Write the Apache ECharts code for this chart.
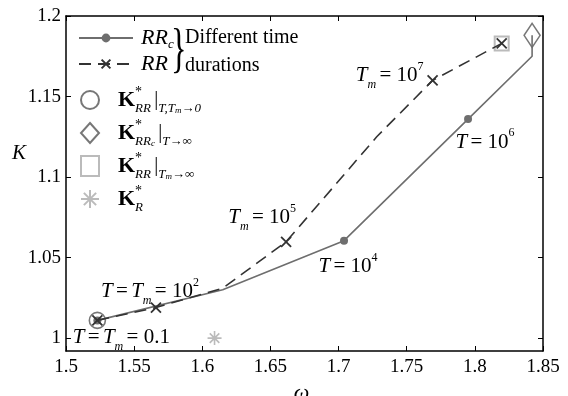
<!DOCTYPE html>
<html>
<head>
<meta charset="utf-8">
<script src="https://cdn.jsdelivr.net/npm/echarts@6/dist/echarts.min.js"></script>
<style>
html, body { margin: 0; background: #fff; }
#chart { width: 568px; height: 396px; }
</style>
</head>
<body>
<div id="chart"></div>
<script>
var xTicks = [1.5, 1.55, 1.6, 1.65, 1.7, 1.75, 1.8, 1.85];
var yTicks = [1, 1.05, 1.1, 1.15, 1.2];

// RR_c : different T (solid line, dots)
var rrcOmega = [1.523, 1.615, 1.704, 1.795, 1.842, 1.842];
var rrcK     = [1.011, 1.030, 1.0605, 1.136, 1.175, 1.188];
var rrcMark  = [1, 0, 1, 1, 0, 0];
var rrcNote  = ['', '', '{i|T} {n|= 10}{sup|4}', '{i|T} {n|= 10}{sup|6}', '', ''];

// RR : different Tm (dashed line, crosses)
var rrOmega = [1.523, 1.566, 1.615, 1.6615, 1.728, 1.769, 1.8197];
var rrK     = [1.011, 1.019, 1.031, 1.0598, 1.125, 1.160, 1.183];
var rrMark  = [1, 1, 0, 1, 0, 1, 1];
var rrNote  = ['{i|T} {n|=} {i|T}{sub|m} {n|= 0.1}', '{i|T} {n|=} {i|T}{sub|m} {n|= 10}{sup|2}', '',
               '{i|T}{sub|m} {n|= 10}{sup|5}', '', '{i|T}{sub|m} {n|= 10}{sup|7}', ''];

// limit points K*
var kRRzero   = [1.523, 1.011];
var kRRcInf   = [1.842, 1.188];
var kRRinf    = [1.8197, 1.183];
var kRstar    = [1.609, 1.0];

var legendText = {
    'RRc': '{it|RR}{itsub|c}',
    'RR': '{it|RR}',
    'k1': '{kb|K}{st|*}{ks|RR} {bar||}{ks2|T,T}{ks3|m}{ks2|→0}',
    'k2': '{kb|K}{st|*}{ks|RR}{ks3|c} {bar||}{ks2|T→∞}',
    'k3': '{kb|K}{st|*}{ks|RR} {bar||}{ks2|T}{ks3|m}{ks2|→∞}',
    'k4': '{kb|K}{st|*}{ks|R}'
};

var serif = '"Liberation Serif", "Times New Roman", serif';
var noteRich = {
    i:   { fontFamily: serif, fontStyle: 'italic', fontSize: 21, lineHeight: 30, color: '#000' },
    n:   { fontFamily: serif, fontSize: 21, lineHeight: 30, color: '#000' },
    sub: { fontFamily: serif, fontStyle: 'italic', fontSize: 12, lineHeight: 12, verticalAlign: 'bottom', color: '#000' },
    sup: { fontFamily: serif, fontSize: 12, lineHeight: 14, verticalAlign: 'top', color: '#000' }
};
var legRich = {
    it:    { fontFamily: serif, fontStyle: 'italic', fontSize: 22, lineHeight: 26, color: '#000' },
    itsub: { fontFamily: serif, fontStyle: 'italic', fontSize: 13, lineHeight: 12, verticalAlign: 'bottom', color: '#000' },
    kb:    { fontFamily: serif, fontWeight: 'bold', fontSize: 22, lineHeight: 30, color: '#000' },
    st:    { fontFamily: serif, fontSize: 14, lineHeight: 16, verticalAlign: 'top', color: '#000', width: 0 },
    ks:    { fontFamily: serif, fontStyle: 'italic', fontSize: 13, lineHeight: 12, verticalAlign: 'bottom', color: '#000' },
    ks2:   { fontFamily: serif, fontStyle: 'italic', fontSize: 13, lineHeight: 12, verticalAlign: 'bottom', color: '#000' },
    ks3:   { fontFamily: serif, fontStyle: 'italic', fontSize: 9, lineHeight: 8, verticalAlign: 'bottom', color: '#000' },
    bar:   { fontFamily: serif, fontSize: 20, lineHeight: 30, color: '#000' }
};

var crossSym = 'path://M0,0L10,10M10,0L0,10';
var starSym = 'path://M5,0L5,10M0,5L10,5M1.6,1.6L8.4,8.4M8.4,1.6L1.6,8.4';

// label offsets of the T / Tm notes, relative to their points
var rrcNoteOffset = { 2: [4, 26], 3: [17, 23] };
var rrNoteOffset = { 0: [24, 17], 1: [-6, -16], 3: [-24, -24], 5: [-43, -5] };

function buildData(xs, ys, marks, notes, offs) {
    return xs.map(function (x, i) {
        var item = { value: [x, ys[i]] };
        if (!marks[i]) item.symbol = 'none';
        if (notes[i]) {
            item.label = {
                show: true, position: 'inside', offset: offs[i],
                formatter: notes[i], rich: noteRich
            };
        }
        return item;
    });
}

var myChart = echarts.init(document.getElementById('chart'));
var axisLine = { show: true, onZero: false, lineStyle: { color: '#000', width: 1.5 } };
var tickStyle = { inside: true, length: 5, lineStyle: { color: '#000', width: 1 } };

var option = {
    animation: false,
    grid: { left: 66, right: 25, top: 16, bottom: 45, outerBoundsMode: 'none' },
    xAxis: [
        {
            type: 'value', min: 1.5, max: 1.85,
            axisLine: axisLine,
            axisTick: Object.assign({ customValues: xTicks }, tickStyle),
            axisLabel: { customValues: xTicks, margin: 7, color: '#000', fontFamily: serif, fontSize: 19 },
            splitLine: { show: false },
            name: '{w|ω}{s|c}', nameLocation: 'middle', nameGap: 30,
            nameTextStyle: { rich: {
                w: { fontFamily: serif, fontStyle: 'italic', fontSize: 22, lineHeight: 24, color: '#000' },
                s: { fontFamily: serif, fontStyle: 'italic', fontSize: 13, lineHeight: 12, verticalAlign: 'bottom', color: '#000' }
            } }
        },
        {
            type: 'value', position: 'top', min: 1.5, max: 1.85,
            axisLine: axisLine,
            axisTick: Object.assign({ customValues: xTicks }, tickStyle),
            axisLabel: { show: false }, splitLine: { show: false }
        }
    ],
    yAxis: [
        {
            type: 'value', min: 0.992, max: 1.2,
            axisLine: axisLine,
            axisTick: Object.assign({ customValues: yTicks }, tickStyle),
            axisLabel: { customValues: yTicks, margin: 5, color: '#000', fontFamily: serif, fontSize: 19 },
            splitLine: { show: false }
        },
        {
            type: 'value', position: 'right', min: 0.992, max: 1.2,
            axisLine: axisLine,
            axisTick: Object.assign({ customValues: yTicks }, tickStyle),
            axisLabel: { show: false }, splitLine: { show: false }
        }
    ],
    legend: [
        {
            data: ['RRc', 'RR'], orient: 'vertical', left: 73, top: 22,
            itemWidth: 54, itemHeight: 11, itemGap: 2, selectedMode: false,
            formatter: function (name) { return legendText[name]; },
            textStyle: { padding: [0, 0, 0, 3], rich: legRich }
        },
        {
            data: ['k1', 'k2', 'k3', 'k4'], orient: 'vertical', left: 75, top: 80,
            itemWidth: 18, itemHeight: 20, itemGap: 3, selectedMode: false,
            formatter: function (name) { return legendText[name]; },
            textStyle: { padding: [0, 0, 0, 14], rich: legRich }
        }
    ],
    graphic: [
        {
            // y-axis name
            type: 'text', left: 12, top: 143,
            style: { text: 'K', font: 'italic 21px ' + serif, fill: '#000' }
        },
        {
            type: 'text', left: 171, top: 25, scaleX: 0.6,
            style: { text: '}', font: '54px ' + serif, fill: '#000' }
        },
        {
            type: 'text', left: 185, top: 24,
            style: { text: 'Different time\ndurations', font: '20px ' + serif, lineHeight: 28, fill: '#000' }
        }
    ],
    series: [
        {
            name: 'k1', type: 'scatter', data: [kRRzero], z: 1,
            symbol: 'circle', symbolSize: 16,
            itemStyle: { color: 'transparent', borderColor: '#555', borderWidth: 1.6 }
        },
        {
            name: 'k2', type: 'scatter', data: [kRRcInf], z: 1,
            symbol: 'diamond', symbolSize: [16, 24],
            itemStyle: { color: 'transparent', borderColor: '#555', borderWidth: 1.6 }
        },
        {
            name: 'k3', type: 'scatter', data: [kRRinf], z: 1,
            symbol: 'rect', symbolSize: 14,
            itemStyle: { color: 'transparent', borderColor: '#aaa', borderWidth: 2 }
        },
        {
            name: 'k4', type: 'scatter', data: [kRstar], z: 1,
            symbol: starSym, symbolSize: 14,
            itemStyle: { color: 'transparent', borderColor: '#aaa', borderWidth: 1.6 }
        },
        {
            name: 'RRc', type: 'line', z: 3,
            symbol: 'circle', symbolSize: 8, showAllSymbol: true,
            lineStyle: { color: '#6e6e6e', width: 1.6 },
            itemStyle: { color: '#6e6e6e' },
            data: buildData(rrcOmega, rrcK, rrcMark, rrcNote, rrcNoteOffset)
        },
        {
            name: 'RR', type: 'line', z: 4,
            symbol: crossSym, symbolSize: 10, showAllSymbol: true,
            lineStyle: { color: '#333', width: 1.6, type: [12, 7] },
            itemStyle: { color: 'transparent', borderColor: '#333', borderWidth: 1.8 },
            data: buildData(rrOmega, rrK, rrMark, rrNote, rrNoteOffset)
        }
    ]
};
myChart.setOption(option);
</script>
</body>
</html>
